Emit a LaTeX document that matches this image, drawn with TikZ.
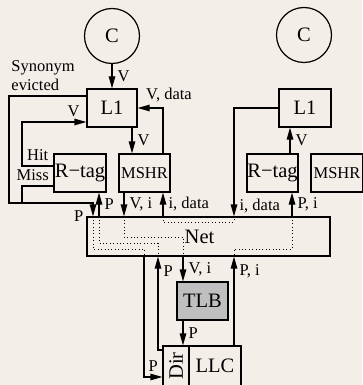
\documentclass[tikz,border=0pt]{standalone}
\usepackage{fontspec}
\setmainfont{Liberation Serif}
\usepackage{graphicx}
\usetikzlibrary{arrows.meta}
\definecolor{paper}{RGB}{243,238,232}
\tikzset{
  unit/.style={draw, rectangle, minimum width=51pt, minimum height=38pt, inner sep=0pt, font=\fontsize{20.5}{24}\selectfont},
  core/.style={draw, circle, minimum size=55pt, inner sep=0pt, font=\fontsize{20.5}{24}\selectfont},
  small/.style={font=\fontsize{16.5}{20}\selectfont},
  lbl/.style={font=\fontsize{16.5}{19}\selectfont, inner sep=5pt},
  arr/.style={-{Triangle[length=12pt,width=6.5pt]}},
  route/.style={dash pattern=on 1pt off 2.4pt, line width=0.9pt},
}
\begin{document}
\begin{tikzpicture}[x=1pt, y=-1pt, line width=1.2pt]
    \fill[paper] (0,0) rectangle (362,385);
    \useasboundingbox (0,0) rectangle (362,385);

    \node[core] (cL) at (112,36) {C};
    \node[core] (cR) at (304,35) {C};
    \node[unit, minimum width=50pt] (l1L) at (112,108) {L1};
    \node[unit, minimum width=52pt] (l1R) at (305,108) {L1};
    \node[unit, minimum width=52pt] (rtagL) at (80,173) {R−tag};
    \node[unit, small] (mshrL) at (144.5,173) {MSHR};
    \node[unit] (rtagR) at (272.5,173) {R−tag};
    \node[unit, small, minimum width=52pt] (mshrR) at (337,173) {MSHR};
    \node[unit, minimum width=243pt, minimum height=39pt,
          label={[xshift=-9pt, font=\fontsize{20.5}{24}\selectfont]center:Net}] (net) at (208.5,236.5) {};
    \node[unit, fill=gray!50] (tlb) at (202.5,301) {TLB};
    \node[unit, minimum width=26pt, minimum height=40pt] (dir) at (176,366) {\rotatebox{90}{Dir}};
    \node[unit, minimum width=52pt, minimum height=40pt] (llc) at (215,366) {LLC};

    % left core
    \draw[arr] (cL) -- node[lbl, right] {V} (l1L);
    \draw[arr] (l1L.south -| 132,0) -- node[lbl, right] {V} (mshrL.north -| 132,0);
    \draw[arr] (mshrL.north -| 163,0) |- node[lbl, above, xshift=6pt] {V, data} (l1L.east);
    \draw[arr] ([yshift=7pt]rtagL.west) -| node[lbl, pos=0.25, above] {Hit} (22,122)
        -- node[lbl, pos=0.8, above] {V} (l1L.west |- 22,122);
    \draw ([yshift=-13pt]rtagL.west) -| node[lbl, pos=0.25, above, xshift=-5pt] {Miss} (22,203);
    \draw[arr] ([yshift=12pt]l1L.west) -| node[lbl, pos=0.28, above, align=left] {Synonym\\evicted} (9,203)
        -| node[lbl, at end, left, xshift=-4pt] {P} (net.north -| 93,0);
    \draw[arr] (net.north -| 99,0) -- node[lbl, right] {P} (rtagL.south -| 99,0);
    \draw[arr] (mshrL.south -| 124,0) -- node[lbl, right] {V, i} (net.north -| 124,0);
    \draw[arr] (net.north -| 163,0) -- node[lbl, right] {i, data} (mshrL.south -| 163,0);

    % right core
    \draw[arr] (l1R.west) -| node[lbl, pos=0.95, right] {i, data} (net.north -| 234,0);
    \draw[arr] (net.north -| 292,0) -- node[lbl, right] {P, i} (rtagR.south -| 292,0);
    \draw[arr] (rtagR.north -| 290,0) -- node[lbl, right] {V} (l1R.south -| 290,0);

    % below the net
    \draw[arr] (net.south -| 144,0) |- node[lbl, pos=0.75, above] {P} ([yshift=-11pt]dir.west);
    \draw[arr] ([yshift=16pt]dir.west) -| node[lbl, pos=0.92, right] {P} (net.south -| 158,0);
    \draw[arr] (net.south -| 183,0) -- node[lbl, right] {V, i} (tlb.north -| 183,0);
    \draw[arr] (tlb.south -| 183,0) -- node[lbl, right] {P} (dir.north -| 183,0);
    \draw[arr] (llc.north -| 234,0) -- node[lbl, pos=0.83, right] {P, i} (net.south -| 234,0);

    % routes through the net
    \draw[route] (net.north -| 93,0) |- (144,249) -- (net.south -| 144,0);
    \draw[route] (net.north -| 99,0) |- (158,243) -- (net.south -| 158,0);
    \draw[route] (net.north -| 124,0) |- (183,237) -- (net.south -| 183,0);
    \draw[route] (net.north -| 163,0) |- (234,222) -- (net.north -| 234,0);
    \draw[route] (net.north -| 292,0) |- (234,249) -- (net.south -| 234,0);
\end{tikzpicture}
\end{document}
